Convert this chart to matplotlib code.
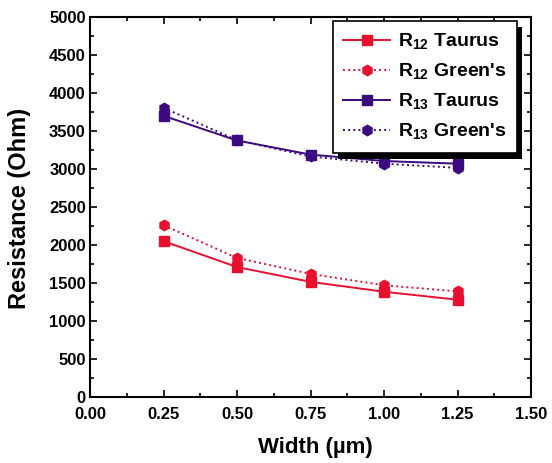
import numpy as np
import matplotlib
matplotlib.use("Agg")
import matplotlib.pyplot as plt
from matplotlib.ticker import MultipleLocator
from matplotlib.patches import Rectangle
from matplotlib.transforms import IdentityTransform

plt.rcParams['font.family'] = ['Liberation Sans', 'DejaVu Sans']
plt.rcParams['font.weight'] = 'bold'
plt.rcParams['mathtext.fontset'] = 'custom'
plt.rcParams['mathtext.rm'] = 'Liberation Sans:bold'

width = [0.25, 0.50, 0.75, 1.00, 1.25]
r12_taurus = [2050, 1710, 1515, 1385, 1280]
r12_green = [2260, 1830, 1620, 1470, 1390]
r13_taurus = [3700, 3375, 3190, 3105, 3070]
r13_green = [3805, 3380, 3165, 3070, 3015]

red = '#e8102e'
purple = '#3b0a7e'

fig = plt.figure(figsize=(5.52, 4.63), dpi=100)
ax = fig.add_axes([90 / 552, 66 / 463, 441 / 552, 380 / 463])

ax.plot(width, r12_taurus, '-', color=red, marker='s', ms=6.5, lw=1.4, label=r'R$_{12}$ Taurus')
ax.plot(width, r12_green, ':', color=red, marker='h', ms=7.5, lw=1.4, label=r"R$_{12}$ Green's")
ax.plot(width, r13_taurus, '-', color=purple, marker='s', ms=6.5, lw=1.4, label=r'R$_{13}$ Taurus')
ax.plot(width, r13_green, ':', color=purple, marker='h', ms=7.5, lw=1.4, label=r"R$_{13}$ Green's")

ax.set_xlim(0, 1.5)
ax.set_ylim(0, 5000)
ax.xaxis.set_major_locator(MultipleLocator(0.25))
ax.xaxis.set_minor_locator(MultipleLocator(0.125))
ax.yaxis.set_major_locator(MultipleLocator(500))
ax.yaxis.set_minor_locator(MultipleLocator(250))
ax.xaxis.set_major_formatter(plt.FormatStrFormatter('%.2f'))
ax.tick_params(which='both', direction='in', top=True, right=True, width=1.2, labelsize=12)
ax.tick_params(axis='x', which='both', pad=7)
ax.tick_params(axis='y', which='both', pad=3)
ax.tick_params(which='major', length=5)
ax.tick_params(which='minor', length=3)
for s in ax.spines.values():
    s.set_linewidth(1.5)

ax.set_xlabel(u'Width (\u00b5m)', fontsize=16, fontweight='bold', va='center')
ax.set_ylabel('Resistance (Ohm)', fontsize=17, fontweight='bold', va='center', ha='center')
ax.xaxis.set_label_coords(0.511, -0.132)
ax.yaxis.set_label_coords(-0.159, 0.495)

leg = ax.legend(loc='upper right', bbox_to_anchor=(0.968, 0.989), borderaxespad=0,
                fontsize=14, frameon=True, fancybox=False, edgecolor='black',
                framealpha=1, handlelength=2.4, handletextpad=0.4,
                labelspacing=0.5, borderpad=0.55)
leg.get_frame().set_linewidth(1.2)

# solid drop shadow behind the legend box
fig.canvas.draw()
bb = leg.get_window_extent()
ax.add_artist(Rectangle((bb.x0 + 5, bb.y0 - 6), bb.width, bb.height,
                        transform=IdentityTransform(), facecolor='black',
                        edgecolor='none', zorder=4.9, clip_on=False))

fig.savefig('out.png', dpi=100)
